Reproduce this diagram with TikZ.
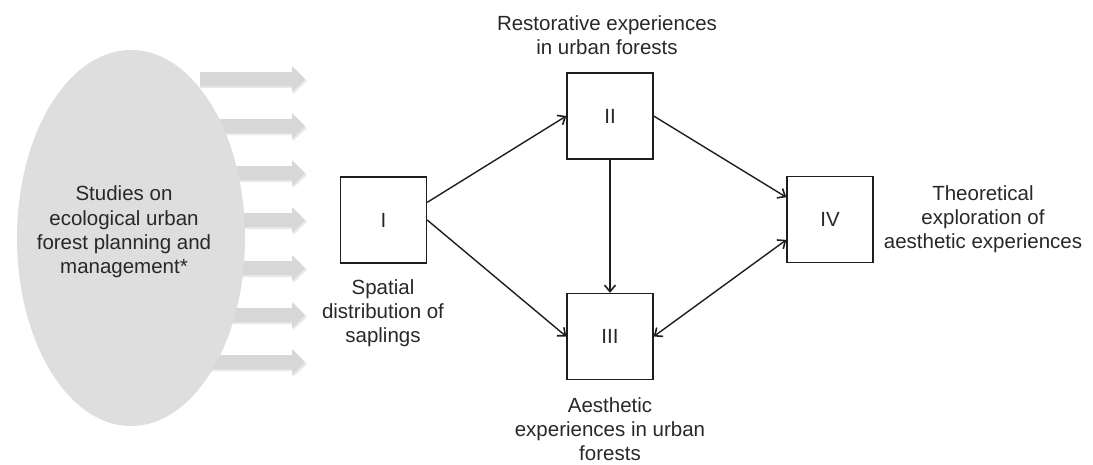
\documentclass[tikz,border=0pt]{standalone}
\usepackage{fontspec}
\setmainfont{Liberation Sans}
\usetikzlibrary{arrows.meta,shapes.geometric}
\definecolor{blobgray}{RGB}{222,222,222}
\definecolor{arrgray}{RGB}{215,215,215}
\definecolor{shadgray}{RGB}{232,232,232}
\definecolor{linec}{RGB}{30,30,30}
\definecolor{txtc}{RGB}{40,40,40}
\begin{document}
\begin{tikzpicture}[x=1pt,y=-1pt,
  every node/.style={font=\fontsize{20.5}{24.3}\selectfont, text=txtc},
  box/.style={draw=linec, line width=1.4pt, minimum width=86pt, minimum height=86pt, inner sep=0pt, fill=white},
  lbl/.style={align=center},
  barb/.tip={Straight Barb[length=6.5pt,width=11pt,line width=1.6pt]},
  conn/.style={draw=linec, line width=1.4pt, -barb}]
\useasboundingbox (0,0) rectangle (1093,464);
% gray block arrows
\foreach \yy in {79,126,173,220,268,315,362} {
  \fill[shadgray] (200,\yy-6) -- (293,\yy-6) -- (293,\yy-12) -- (307,\yy+2) -- (293,\yy+15) -- (293,\yy+9) -- (200,\yy+9) -- cycle;
  \fill[arrgray] (200,\yy-7) -- (292,\yy-7) -- (292,\yy-13) -- (305,\yy) -- (292,\yy+13) -- (292,\yy+7) -- (200,\yy+7) -- cycle;
}
% source ellipse
\node[ellipse, fill=blobgray, minimum width=228pt, minimum height=376pt, inner sep=0pt] (src) at (131,238) {};
\node[lbl] (srctext) at (124,232) {Studies on\\ecological urban\\forest planning and\\management*};
% boxes
\node[box] (I) at (383.5,220) {I};
\node[box] (II) at (610,116) {II};
\node[box] (III) at (610,336.5) {III};
\node[box] (IV) at (830,219.5) {IV};
% labels
\node[lbl] (lII) at (607,35) {Restorative experiences\\in urban forests};
\node[lbl] (lI) at (383,313) {Spatial\\distribution of\\saplings};
\node[lbl] (lIII) at (610,429) {Aesthetic\\experiences in urban\\forests};
\node[lbl] (lIV) at (983,219) {Theoretical\\exploration of\\aesthetic experiences};
% connectors
\draw[conn] (I.22) -- (II.west);
\draw[conn] (I.east) -- (III.west);
\draw[conn] (II.south) -- (III.north);
\draw[conn] (II.east) -- (IV.153);
\draw[conn, barb-barb] (III.east) -- (IV.205);
\end{tikzpicture}
\end{document}
